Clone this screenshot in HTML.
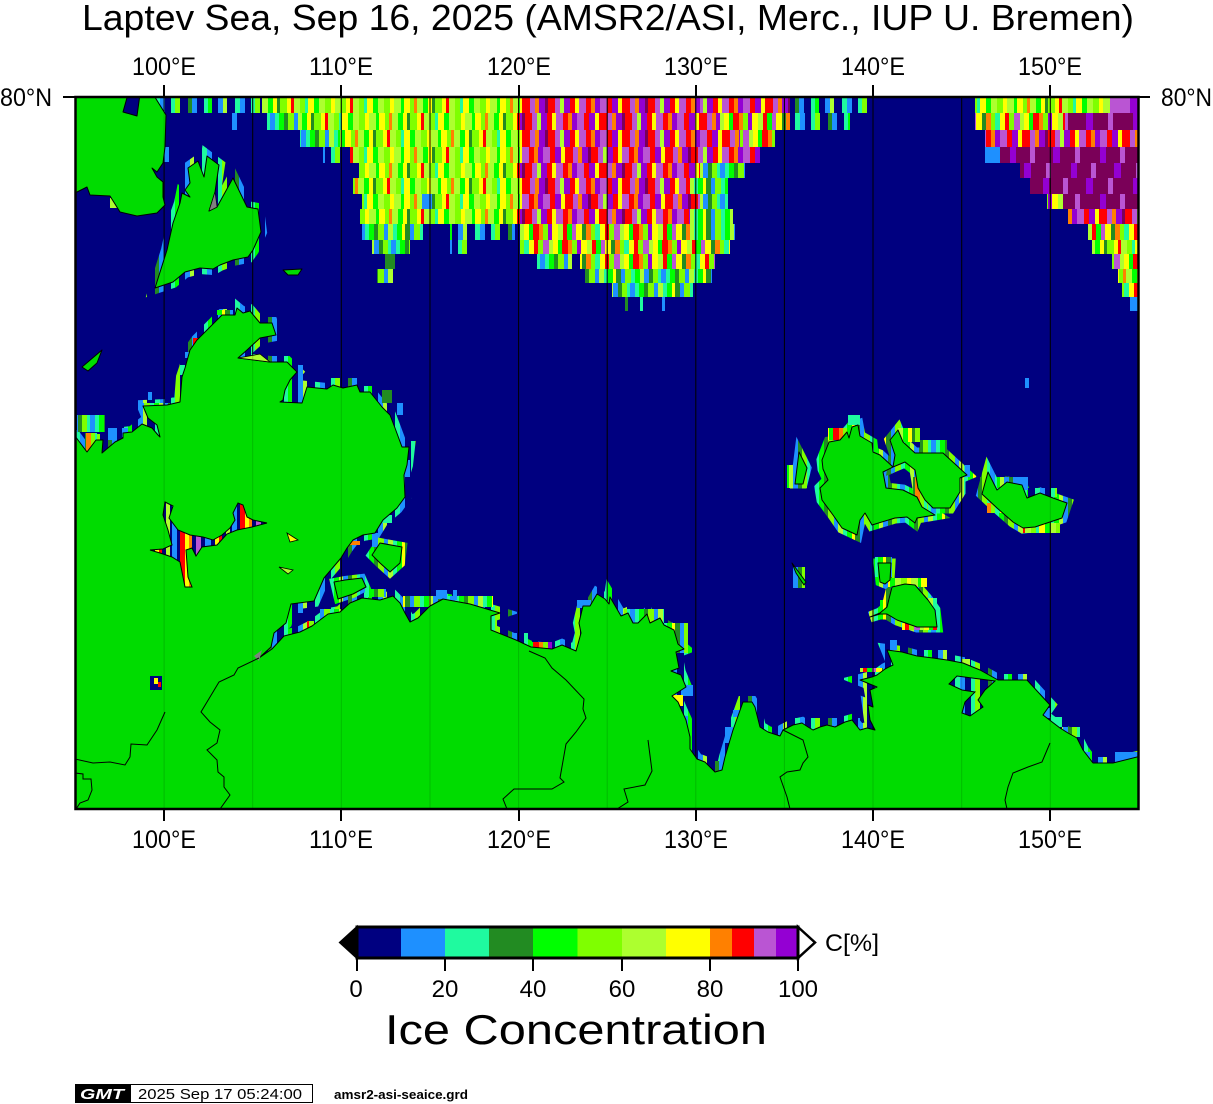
<!DOCTYPE html>
<html>
<head>
<meta charset="utf-8">
<style>
html,body{margin:0;padding:0;background:#fff;}
svg{display:block;}
text{font-family:"Liberation Sans",Arial,Helvetica,sans-serif;fill:#000;}
</style>
</head>
<body>
<svg xmlns="http://www.w3.org/2000/svg" xmlns:xlink="http://www.w3.org/1999/xlink" width="1213" height="1104" viewBox="0 0 1213 1104">
<defs>
<clipPath id="mapclip"><rect x="75.5" y="97" width="1063" height="712"/></clipPath>

<pattern id="yg" patternUnits="userSpaceOnUse" width="96" height="20">
<rect x="0" width="6" height="20" fill="#7fff00"/><rect x="6" width="4" height="20" fill="#ffff00"/><rect x="10" width="7" height="20" fill="#adff2f"/><rect x="17" width="3" height="20" fill="#00ff00"/><rect x="20" width="6" height="20" fill="#ffff00"/><rect x="26" width="4" height="20" fill="#7fff00"/><rect x="30" width="3" height="20" fill="#ff8000"/><rect x="33" width="6" height="20" fill="#adff2f"/><rect x="39" width="5" height="20" fill="#00ff00"/><rect x="44" width="4" height="20" fill="#ffff00"/><rect x="48" width="3" height="20" fill="#228b22"/><rect x="51" width="7" height="20" fill="#7fff00"/><rect x="58" width="4" height="20" fill="#ffff00"/><rect x="62" width="3" height="20" fill="#ff0000"/><rect x="65" width="6" height="20" fill="#adff2f"/><rect x="71" width="5" height="20" fill="#7fff00"/><rect x="76" width="3" height="20" fill="#1ffa9f"/><rect x="79" width="6" height="20" fill="#ffff00"/><rect x="85" width="5" height="20" fill="#00ff00"/><rect x="90" width="6" height="20" fill="#adff2f"/>
</pattern>
<pattern id="wm" patternUnits="userSpaceOnUse" width="100" height="20">
<rect x="0" width="7" height="20" fill="#ba55d3"/><rect x="7" width="5" height="20" fill="#ff0000"/><rect x="12" width="6" height="20" fill="#9400d3"/><rect x="18" width="4" height="20" fill="#ffff00"/><rect x="22" width="8" height="20" fill="#ff0000"/><rect x="30" width="5" height="20" fill="#ba55d3"/><rect x="35" width="4" height="20" fill="#ff8000"/><rect x="39" width="6" height="20" fill="#9400d3"/><rect x="45" width="3" height="20" fill="#7a0058"/><rect x="48" width="7" height="20" fill="#ff0000"/><rect x="55" width="5" height="20" fill="#ba55d3"/><rect x="60" width="4" height="20" fill="#adff2f"/><rect x="64" width="6" height="20" fill="#9400d3"/><rect x="70" width="5" height="20" fill="#ff0000"/><rect x="75" width="4" height="20" fill="#ffff00"/><rect x="79" width="7" height="20" fill="#ba55d3"/><rect x="86" width="5" height="20" fill="#ff0000"/><rect x="91" width="4" height="20" fill="#ff8000"/><rect x="95" width="5" height="20" fill="#9400d3"/>
</pattern>
<pattern id="ed" patternUnits="userSpaceOnUse" width="90" height="20">
<rect x="0" width="5" height="20" fill="#1e90ff"/><rect x="5" width="4" height="20" fill="#1ffa9f"/><rect x="9" width="5" height="20" fill="#00ff00"/><rect x="14" width="4" height="20" fill="#228b22"/><rect x="18" width="6" height="20" fill="#7fff00"/><rect x="24" width="4" height="20" fill="#1e90ff"/><rect x="28" width="5" height="20" fill="#adff2f"/><rect x="33" width="4" height="20" fill="#1ffa9f"/><rect x="37" width="5" height="20" fill="#00ff00"/><rect x="42" width="3" height="20" fill="#ffff00"/><rect x="45" width="5" height="20" fill="#228b22"/><rect x="50" width="4" height="20" fill="#1e90ff"/><rect x="54" width="6" height="20" fill="#7fff00"/><rect x="60" width="4" height="20" fill="#1ffa9f"/><rect x="64" width="5" height="20" fill="#00ff00"/><rect x="69" width="4" height="20" fill="#adff2f"/><rect x="73" width="5" height="20" fill="#1e90ff"/><rect x="78" width="4" height="20" fill="#228b22"/><rect x="82" width="5" height="20" fill="#7fff00"/><rect x="87" width="3" height="20" fill="#1ffa9f"/>
</pattern>
<pattern id="sp" patternUnits="userSpaceOnUse" width="80" height="20">
<rect x="0" width="80" height="20" fill="#000080"/><rect x="0" width="5" height="20" fill="#1e90ff"/><rect x="11" width="4" height="20" fill="#1ffa9f"/><rect x="15" width="5" height="20" fill="#7fff00"/><rect x="28" width="4" height="20" fill="#228b22"/><rect x="32" width="5" height="20" fill="#1e90ff"/><rect x="44" width="4" height="20" fill="#1ffa9f"/><rect x="48" width="4" height="20" fill="#00ff00"/><rect x="58" width="5" height="20" fill="#1e90ff"/><rect x="63" width="4" height="20" fill="#adff2f"/><rect x="75" width="5" height="20" fill="#1ffa9f"/>
</pattern>
<pattern id="ma" patternUnits="userSpaceOnUse" width="90" height="20">
<rect x="0" width="90" height="20" fill="#7a0058"/><rect x="20" width="6" height="20" fill="#9400d3"/><rect x="40" width="5" height="20" fill="#ba55d3"/><rect x="63" width="7" height="20" fill="#9400d3"/><rect x="85" width="5" height="20" fill="#ba55d3"/>
</pattern>
<pattern id="mx" patternUnits="userSpaceOnUse" width="100" height="20">
<rect x="0" width="5" height="20" fill="#ffff00"/><rect x="5" width="4" height="20" fill="#ff0000"/><rect x="9" width="5" height="20" fill="#7fff00"/><rect x="14" width="6" height="20" fill="#ba55d3"/><rect x="20" width="4" height="20" fill="#adff2f"/><rect x="24" width="5" height="20" fill="#ffff00"/><rect x="29" width="4" height="20" fill="#00ff00"/><rect x="33" width="6" height="20" fill="#ff0000"/><rect x="39" width="4" height="20" fill="#ff8000"/><rect x="43" width="5" height="20" fill="#7fff00"/><rect x="48" width="4" height="20" fill="#9400d3"/><rect x="52" width="6" height="20" fill="#ffff00"/><rect x="58" width="5" height="20" fill="#adff2f"/><rect x="63" width="4" height="20" fill="#ff0000"/><rect x="67" width="5" height="20" fill="#00ff00"/><rect x="72" width="4" height="20" fill="#ba55d3"/><rect x="76" width="6" height="20" fill="#ffff00"/><rect x="82" width="4" height="20" fill="#228b22"/><rect x="86" width="5" height="20" fill="#ff8000"/><rect x="91" width="4" height="20" fill="#7fff00"/><rect x="95" width="5" height="20" fill="#1ffa9f"/>
</pattern>
<pattern id="bw" patternUnits="userSpaceOnUse" width="60" height="20">
<rect x="0" width="60" height="20" fill="#000080"/><rect x="0" width="5" height="20" fill="#ff0000"/><rect x="5" width="4" height="20" fill="#ffff00"/><rect x="9" width="3" height="20" fill="#ff8000"/><rect x="16" width="5" height="20" fill="#ba55d3"/><rect x="25" width="6" height="20" fill="#1e90ff"/><rect x="35" width="4" height="20" fill="#ffff00"/><rect x="39" width="3" height="20" fill="#ff0000"/><rect x="46" width="4" height="20" fill="#adff2f"/><rect x="52" width="5" height="20" fill="#1e90ff"/>
</pattern>
<pattern id="yg2" xlink:href="#yg" x="37"/>
<pattern id="yg3" xlink:href="#yg" x="71"/>
<pattern id="wm2" xlink:href="#wm" x="43"/>
<pattern id="wm3" xlink:href="#wm" x="77"/>
<pattern id="ed2" xlink:href="#ed" x="31"/>
<pattern id="sp2" xlink:href="#sp" x="47"/>
<pattern id="ma2" xlink:href="#ma" x="33"/>
<pattern id="ma3" xlink:href="#ma" x="61"/>
<pattern id="mx2" xlink:href="#mx" x="29"/>

<polygon id="pMain" points="75,436 87,452 96,440 103,440 102,453 115,442 123,438 123,433 132,432 142,424 152,428 158,435 160,437 157,425 148,418 143,406 167,405 180,402 182,377 185,368 190,350 197,340 210,327 222,315 235,315 237,308 243,313 250,311 260,323 272,323 276,335 260,338 247,350 238,358 270,362 287,362 297,372 290,380 285,390 283,400 280,402 302,403 307,387 327,389 333,385 343,388 357,385 360,392 370,392 382,407 390,415 395,428 402,447 409,447 407,465 404,475 405,497 397,508 383,520 375,533 363,535 353,540 347,548 341,558 324,578 314,601 291,604 286,623 274,633 271,647 259,658 272,649 284,636 300,632 312,626 328,614 340,612 350,603 362,598 380,600 393,596 400,603 405,613 410,622 418,618 430,606 443,599 470,604 500,613 491,616 491,630 516,640 531,647 552,649 562,645 576,651 578,644 581,633 579,623 583,606 590,606 597,594 605,599 609,604 610,597 621,616 628,613 633,623 638,623 643,618 647,614 650,623 660,618 664,625 674,630 678,644 684,649 676,652 679,668 671,671 681,675 686,687 672,696 678,702 681,709 686,720 690,737 690,749 697,759 705,762 715,772 722,770 725,757 733,730 743,702 752,702 755,707 760,727 768,732 780,736 783,730 793,725 802,723 808,727 813,730 820,727 827,725 835,727 845,722 852,720 860,730 867,728 875,730 870,720 868,705 873,707 870,690 877,687 860,680 872,677 877,675 885,669 893,665 887,650 902,652 917,656 933,658 947,660 963,663 980,670 998,680 1027,680 1038,692 1050,705 1043,715 1060,728 1068,733 1077,738 1083,750 1093,763 1113,763 1141,756 1141,812 72,812 72,436"/>
<polygon id="pI1" points="72,94 128,94 123,112 137,116 140,94 153,94 166,115 165,147 163,163 157,172 152,168 157,177 163,182 163,197 165,205 157,213 137,216 120,212 110,196 90,195 87,187 77,192 72,193"/>
<polygon id="pI2" points="155,288 167,250 173,223 180,203 182,193 190,197 185,190 190,183 188,168 198,161 204,177 207,156 219,165 215,192 209,211 217,207 233,178 247,207 258,209 261,232 253,250 248,257 233,260 220,265 213,269 200,268 185,272 173,282"/>
<polygon id="pBeg" points="372,555 380,543 402,547 400,563 390,572 380,563"/>
<polygon id="pSm" points="334,582 345,580 362,578 366,587 353,594 338,599"/>
<polygon id="pK1" points="820,488 828,480 823,469 822,460 829,442 840,440 847,432 849,438 852,427 858,425 860,436 872,443 873,452 880,455 893,467 883,472 886,488 903,490 917,497 922,507 935,515 917,518 915,523 907,517 895,518 872,525 865,513 860,520 857,535 842,528 833,515 822,500"/>
<polygon id="pK2" points="890,440 898,430 903,442 915,453 943,453 967,475 960,478 960,492 950,508 933,508 925,500 918,488 915,470 905,462 893,467 895,455"/>
<polygon id="pNS" points="982,494 988,472 997,490 1007,482 1022,485 1027,498 1040,493 1053,498 1067,503 1062,518 1035,527 1023,528 1013,522 997,508"/>
<polygon id="pLya" points="870,617 880,613 887,607 892,587 905,584 915,585 928,600 935,610 937,627 917,627 897,620 887,614 880,614"/>
<polygon id="pStol" points="878,563 891,563 890,580 885,584 880,582"/>
<polygon id="pBel" points="799,452 807,468 803,484 795,484"/>
</defs>

<rect x="0" y="0" width="1213" height="1104" fill="#fff"/>

<!-- Title -->
<text x="82" y="30" font-size="36" textLength="1052" lengthAdjust="spacingAndGlyphs">Laptev Sea, Sep 16, 2025 (AMSR2/ASI, Merc., IUP U. Bremen)</text>

<g clip-path="url(#mapclip)">
<rect x="70" y="90" width="1075" height="725" fill="#000080"/>

<!-- central ice band -->
<rect x="153" y="97" width="109" height="16" fill="url(#sp)"/>
<rect x="262" y="97" width="78" height="16" fill="url(#yg2)"/>
<rect x="340" y="97" width="180" height="16" fill="url(#yg)"/>
<rect x="520" y="97" width="180" height="16" fill="url(#wm)"/>
<rect x="700" y="97" width="90" height="16" fill="url(#wm2)"/>
<rect x="790" y="97" width="80" height="16" fill="url(#sp2)"/>

<rect x="267" y="113" width="33" height="17" fill="url(#ed)"/>
<rect x="300" y="113" width="220" height="17" fill="url(#yg3)"/>
<rect x="520" y="113" width="200" height="17" fill="url(#wm3)"/>
<rect x="720" y="113" width="70" height="17" fill="url(#mx)"/>
<rect x="790" y="113" width="60" height="17" fill="url(#sp)"/>
<rect x="232" y="113" width="5" height="17" fill="#1e90ff"/>

<rect x="300" y="130" width="40" height="17" fill="url(#ed2)"/>
<rect x="340" y="130" width="180" height="17" fill="url(#yg2)"/>
<rect x="520" y="130" width="220" height="17" fill="url(#wm)"/>
<rect x="740" y="130" width="35" height="17" fill="url(#mx2)"/>

<rect x="323" y="147" width="17" height="16" fill="url(#sp)"/>
<rect x="350" y="147" width="170" height="16" fill="url(#yg)"/>
<rect x="520" y="147" width="240" height="16" fill="url(#wm2)"/>

<rect x="359" y="163" width="161" height="15" fill="url(#yg3)"/>
<rect x="520" y="163" width="180" height="15" fill="url(#wm3)"/>
<rect x="700" y="163" width="45" height="15" fill="url(#ed)"/>

<rect x="353" y="178" width="167" height="16" fill="url(#yg2)"/>
<rect x="520" y="178" width="170" height="16" fill="url(#wm)"/>
<rect x="690" y="178" width="38" height="16" fill="url(#ed2)"/>

<rect x="362" y="194" width="158" height="15" fill="url(#yg)"/>
<rect x="422" y="194" width="10" height="15" fill="#1e90ff"/>
<rect x="520" y="194" width="180" height="15" fill="url(#wm2)"/>
<rect x="700" y="194" width="28" height="15" fill="url(#ed)"/>

<rect x="360" y="209" width="160" height="15" fill="url(#yg3)"/>
<rect x="520" y="209" width="170" height="15" fill="url(#wm3)"/>
<rect x="690" y="209" width="43" height="15" fill="url(#ed2)"/>

<rect x="362" y="224" width="61" height="16" fill="url(#ed)"/>
<rect x="450" y="224" width="65" height="16" fill="url(#sp)"/>
<rect x="520" y="224" width="170" height="16" fill="url(#mx)"/>
<rect x="690" y="224" width="45" height="16" fill="url(#ed2)"/>

<rect x="372" y="240" width="38" height="14" fill="url(#ed2)"/>
<rect x="450" y="240" width="20" height="14" fill="url(#sp2)"/>
<rect x="520" y="240" width="210" height="14" fill="url(#mx2)"/>

<rect x="385" y="254" width="10" height="15" fill="#228b22"/>
<rect x="537" y="254" width="35" height="15" fill="url(#ed)"/>
<rect x="580" y="254" width="135" height="15" fill="url(#mx)"/>

<rect x="377" y="269" width="16" height="14" fill="url(#ed)"/>
<rect x="585" y="269" width="127" height="14" fill="url(#ed2)"/>

<rect x="612" y="283" width="81" height="14" fill="url(#ed)"/>
<rect x="625" y="297" width="3" height="14" fill="#228b22"/>
<rect x="640" y="297" width="3" height="14" fill="#1ffa9f"/>
<rect x="662" y="297" width="3" height="14" fill="#1e90ff"/>

<!-- top-right ice -->
<rect x="975" y="97" width="135" height="16" fill="url(#yg2)"/>
<rect x="1110" y="97" width="20" height="16" fill="#ba55d3"/>
<rect x="1130" y="97" width="10" height="16" fill="#9400d3"/>
<rect x="975" y="113" width="90" height="17" fill="url(#mx)"/>
<rect x="1065" y="113" width="75" height="17" fill="url(#ma2)"/>
<rect x="985" y="130" width="155" height="17" fill="url(#wm)"/>
<rect x="985" y="147" width="15" height="16" fill="#1e90ff"/>
<rect x="1000" y="147" width="140" height="16" fill="url(#ma)"/>
<rect x="1020" y="163" width="120" height="15" fill="url(#ma3)"/>
<rect x="1030" y="178" width="110" height="16" fill="url(#ma2)"/>
<rect x="1047" y="194" width="16" height="15" fill="url(#mx)"/>
<rect x="1063" y="194" width="77" height="15" fill="url(#ma)"/>
<rect x="1068" y="209" width="72" height="15" fill="url(#wm3)"/>
<rect x="1088" y="224" width="52" height="16" fill="url(#mx2)"/>
<rect x="1092" y="240" width="48" height="14" fill="url(#yg)"/>
<rect x="1112" y="254" width="28" height="15" fill="url(#mx)"/>
<rect x="1118" y="269" width="22" height="14" fill="url(#yg2)"/>
<rect x="1122" y="283" width="18" height="14" fill="url(#mx2)"/>
<rect x="1130" y="297" width="10" height="14" fill="#1e90ff"/>
<rect x="1025" y="378" width="4" height="10" fill="#1e90ff"/>

<!-- coastal rims (under land) -->
<use xlink:href="#pMain" fill="none" stroke="url(#sp)" stroke-width="12"/>
<use xlink:href="#pI2" fill="none" stroke="url(#sp2)" stroke-width="12"/>
<use xlink:href="#pBeg" fill="none" stroke="url(#ed)" stroke-width="10"/>
<use xlink:href="#pSm" fill="none" stroke="url(#ed)" stroke-width="8"/>
<use xlink:href="#pK1" fill="none" stroke="url(#ed)" stroke-width="11"/>
<use xlink:href="#pK2" fill="none" stroke="url(#ed2)" stroke-width="11"/>
<use xlink:href="#pNS" fill="none" stroke="url(#ed)" stroke-width="11"/>
<use xlink:href="#pLya" fill="none" stroke="url(#ed2)" stroke-width="11"/>
<use xlink:href="#pStol" fill="none" stroke="url(#ed)" stroke-width="9"/>
<use xlink:href="#pBel" fill="none" stroke="url(#ed)" stroke-width="9"/>

<rect x="193" y="338" width="6" height="8" fill="#ff0000"/>
<rect x="163" y="147" width="6" height="15" fill="#1e90ff"/>
<rect x="110" y="198" width="7" height="10" fill="#adff2f"/>
<rect x="664" y="623" width="24" height="30" fill="url(#ed)"/>
<rect x="681" y="685" width="12" height="11" fill="#1e90ff"/>
<rect x="667" y="695" width="16" height="11" fill="#ffff00"/>
<rect x="676" y="716" width="12" height="14" fill="url(#ed2)"/>
<rect x="686" y="733" width="11" height="25" fill="url(#sp)"/>
<rect x="710" y="761" width="14" height="17" fill="url(#sp2)"/>
<rect x="726" y="733" width="14" height="18" fill="url(#sp)"/>
<rect x="624" y="609" width="40" height="14" fill="url(#ed)"/>
<rect x="403" y="596" width="90" height="11" fill="url(#ed)"/>
<rect x="436" y="590" width="11" height="9" fill="#1e90ff"/>
<rect x="453" y="590" width="4" height="10" fill="#1e90ff"/>
<rect x="500" y="633" width="28" height="11" fill="url(#sp)"/>
<rect x="531" y="642" width="21" height="7" fill="url(#mx)"/>
<rect x="577" y="600" width="14" height="8" fill="#1e90ff"/>
<rect x="290" y="604" width="13" height="9" fill="url(#sp)"/>
<rect x="271" y="628" width="4" height="16" fill="#1e90ff"/>
<rect x="307" y="621" width="7" height="9" fill="url(#mx)"/>
<rect x="320" y="609" width="21" height="7" fill="url(#ed)"/>
<rect x="365" y="589" width="21" height="8" fill="url(#ed)"/>
<rect x="890" y="640" width="7" height="10" fill="#1e90ff"/>
<rect x="923" y="650" width="24" height="10" fill="url(#sp)"/>
<rect x="962" y="659" width="8" height="8" fill="#adff2f"/>
<rect x="860" y="668" width="23" height="4" fill="url(#mx)"/>
<rect x="1030" y="708" width="20" height="10" fill="#1e90ff"/>
<rect x="1050" y="717" width="12" height="10" fill="#1ffa9f"/>
<rect x="1062" y="727" width="18" height="10" fill="url(#ed)"/>
<rect x="1080" y="752" width="10" height="10" fill="#1e90ff"/>
<rect x="1115" y="752" width="25" height="10" fill="#1e90ff"/>
<rect x="787" y="718" width="73" height="9" fill="url(#sp)"/>
<rect x="733" y="710" width="9" height="7" fill="#1e90ff"/>
<rect x="725" y="727" width="8" height="16" fill="#1e90ff"/>
<rect x="77" y="415" width="28" height="17" fill="url(#ed)"/>
<rect x="85" y="433" width="12" height="20" fill="url(#mx)"/>
<rect x="108" y="428" width="9" height="12" fill="#1e90ff"/>
<rect x="122" y="428" width="6" height="9" fill="#1e90ff"/>
<rect x="143" y="403" width="27" height="5" fill="url(#ed)"/>
<rect x="148" y="392" width="4" height="8" fill="#1e90ff"/>
<rect x="217" y="310" width="16" height="5" fill="url(#ed)"/>
<rect x="185" y="352" width="7" height="6" fill="#1e90ff"/>
<rect x="180" y="365" width="5" height="10" fill="#1ffa9f"/>
<rect x="330" y="378" width="27" height="10" fill="url(#sp)"/>
<rect x="382" y="390" width="10" height="13" fill="#228b22"/>
<rect x="397" y="403" width="6" height="12" fill="#1e90ff"/>
<rect x="393" y="460" width="17" height="17" fill="#1e90ff"/>
<rect x="382" y="515" width="10" height="8" fill="#1ffa9f"/>
<rect x="372" y="533" width="6" height="14" fill="#1e90ff"/>
<rect x="347" y="541" width="13" height="4" fill="#ff8000"/>
<rect x="283" y="365" width="20" height="38" fill="url(#sp)"/>
<rect x="828" y="428" width="19" height="12" fill="url(#mx)"/>
<rect x="848" y="415" width="12" height="10" fill="#1ffa9f"/>
<rect x="898" y="428" width="22" height="14" fill="url(#yg)"/>
<rect x="920" y="440" width="27" height="13" fill="url(#ed2)"/>
<rect x="913" y="477" width="14" height="33" fill="url(#mx2)"/>
<rect x="965" y="465" width="5" height="12" fill="#1e90ff"/>
<rect x="980" y="477" width="10" height="23" fill="url(#ed)"/>
<rect x="997" y="477" width="16" height="11" fill="url(#ed2)"/>
<rect x="1013" y="477" width="15" height="13" fill="#1e90ff"/>
<rect x="1028" y="488" width="29" height="9" fill="url(#sp)"/>
<rect x="987" y="503" width="26" height="10" fill="url(#mx)"/>
<rect x="1023" y="523" width="37" height="10" fill="url(#yg)"/>
<rect x="787" y="465" width="20" height="23" fill="url(#ed)"/>
<rect x="793" y="567" width="12" height="21" fill="url(#ed)"/>
<rect x="875" y="557" width="17" height="20" fill="url(#ed2)"/>
<rect x="888" y="578" width="39" height="9" fill="url(#yg2)"/>
<rect x="920" y="598" width="17" height="12" fill="url(#ed)"/>
<rect x="880" y="600" width="10" height="15" fill="url(#ed2)"/>
<rect x="902" y="623" width="35" height="7" fill="url(#mx)"/>

<!-- meridians (under land) -->
<g stroke="#000" stroke-width="1">
<line x1="164.1" y1="97" x2="164.1" y2="809"/><line x1="252.7" y1="97" x2="252.7" y2="809"/><line x1="341.3" y1="97" x2="341.3" y2="809"/><line x1="430" y1="97" x2="430" y2="809"/><line x1="518.6" y1="97" x2="518.6" y2="809"/><line x1="607.2" y1="97" x2="607.2" y2="809"/><line x1="695.8" y1="97" x2="695.8" y2="809"/><line x1="784.4" y1="97" x2="784.4" y2="809"/><line x1="873" y1="97" x2="873" y2="809"/><line x1="961.7" y1="97" x2="961.7" y2="809"/><line x1="1050.3" y1="97" x2="1050.3" y2="809"/>
</g>

<!-- land -->
<g fill="#00dc00" stroke="#000" stroke-width="1" stroke-linejoin="round">
<use xlink:href="#pMain"/>
<use xlink:href="#pI1"/>
<use xlink:href="#pI2"/>
<use xlink:href="#pBeg"/>
<use xlink:href="#pSm"/>
<use xlink:href="#pK1"/>
<use xlink:href="#pK2"/>
<use xlink:href="#pNS"/>
<use xlink:href="#pLya"/>
<use xlink:href="#pStol"/>
<use xlink:href="#pBel"/>
<polygon points="283,270 302,269 298,275 288,275"/>
<polygon points="82,367 102,350 97,363 88,371"/>
<polygon points="792,563 806,582 804,585 796,573"/>
</g>

<!-- water bodies on land -->
<polygon points="165,502 173,506 169,518 178,530 190,535 203,537 213,540 222,535 230,528 235,520 233,513 238,503 243,505 247,517 253,520 267,523 252,527 237,530 227,534 217,545 202,547 196,556 192,548 186,550 188,577 192,587 185,587 180,562 172,557 160,553 150,550 163,549 172,545 168,530 163,515" fill="url(#bw)" stroke="#000" stroke-width="1"/>
<polygon points="949,684 957,676 995,681 985,690 978,700 983,707 970,716 962,713 965,702 975,692 962,690" fill="url(#sp)" stroke="#000" stroke-width="1"/>
<polygon points="238,358 260,354 270,362" fill="#adff2f" stroke="#000" stroke-width="0.8"/>
<polygon points="287,533 298,540 290,542" fill="#ffff00" stroke="#000" stroke-width="0.8"/>
<polygon points="279,567 293,570 288,574" fill="#adff2f" stroke="#000" stroke-width="0.8"/>
<rect x="150" y="676" width="12" height="14" fill="#000080"/>
<rect x="154" y="678" width="4" height="6" fill="#ffff00"/>
<rect x="158" y="682" width="3" height="5" fill="#ff0000"/>
<polygon points="209,211 215,192 217,207" fill="#808080" stroke="#000" stroke-width="0.6"/>
<polygon points="254,656 262,650 259,661" fill="#808080"/>

<!-- internal lines -->
<g fill="none" stroke="#000" stroke-width="1">
<polyline points="259,658 238,668 234,675 219,682 207,702 201,712 210,722 220,730 217,743 207,750 217,760 218,772 224,777 224,787 230,795 220,809"/>
<polyline points="165,712 157,730 147,745 131,744 130,757 125,765 110,762 93,763 75,759"/>
<polyline points="75,773 83,774 83,779 91,779 92,790 88,800 80,803 76,809"/>
<polyline points="529,651 545,658 552,668 566,680 584,699 583,709 586,718 576,732 566,744 560,778 564,782 552,789 514,789 503,799 507,809"/>
<polyline points="648,740 652,771 645,785 624,789 628,802 617,809"/>
<polyline points="783,730 803,740 808,757 803,763 800,770 787,772 780,777 787,797 790,809"/>
<polyline points="1050,743 1042,762 1028,767 1013,773 1008,787 1005,800 1007,809"/>
</g>

<!-- faint meridians over land -->
<g stroke="#000" stroke-opacity="0.15" stroke-width="1">
<line x1="164.1" y1="97" x2="164.1" y2="809"/><line x1="252.7" y1="97" x2="252.7" y2="809"/><line x1="341.3" y1="97" x2="341.3" y2="809"/><line x1="430" y1="97" x2="430" y2="809"/><line x1="518.6" y1="97" x2="518.6" y2="809"/><line x1="607.2" y1="97" x2="607.2" y2="809"/><line x1="695.8" y1="97" x2="695.8" y2="809"/><line x1="784.4" y1="97" x2="784.4" y2="809"/><line x1="873" y1="97" x2="873" y2="809"/><line x1="961.7" y1="97" x2="961.7" y2="809"/><line x1="1050.3" y1="97" x2="1050.3" y2="809"/>
</g>
</g>

<!-- frame -->
<rect x="75.5" y="97" width="1063" height="712" fill="none" stroke="#000" stroke-width="2.5"/>
<g stroke="#000" stroke-width="2">
<line x1="164" y1="85" x2="164" y2="97"/><line x1="341" y1="85" x2="341" y2="97"/><line x1="519" y1="85" x2="519" y2="97"/><line x1="696" y1="85" x2="696" y2="97"/><line x1="873" y1="85" x2="873" y2="97"/><line x1="1050" y1="85" x2="1050" y2="97"/>
<line x1="164" y1="809" x2="164" y2="821"/><line x1="341" y1="809" x2="341" y2="821"/><line x1="519" y1="809" x2="519" y2="821"/><line x1="696" y1="809" x2="696" y2="821"/><line x1="873" y1="809" x2="873" y2="821"/><line x1="1050" y1="809" x2="1050" y2="821"/>
<line x1="63" y1="97" x2="75" y2="97"/><line x1="1138" y1="97" x2="1150" y2="97"/>
</g>

<!-- axis labels -->
<g font-size="25">
<text x="132" y="75" textLength="64" lengthAdjust="spacingAndGlyphs">100°E</text>
<text x="309" y="75" textLength="64" lengthAdjust="spacingAndGlyphs">110°E</text>
<text x="487" y="75" textLength="64" lengthAdjust="spacingAndGlyphs">120°E</text>
<text x="664" y="75" textLength="64" lengthAdjust="spacingAndGlyphs">130°E</text>
<text x="841" y="75" textLength="64" lengthAdjust="spacingAndGlyphs">140°E</text>
<text x="1018" y="75" textLength="64" lengthAdjust="spacingAndGlyphs">150°E</text>
<text x="132" y="848" textLength="64" lengthAdjust="spacingAndGlyphs">100°E</text>
<text x="309" y="848" textLength="64" lengthAdjust="spacingAndGlyphs">110°E</text>
<text x="487" y="848" textLength="64" lengthAdjust="spacingAndGlyphs">120°E</text>
<text x="664" y="848" textLength="64" lengthAdjust="spacingAndGlyphs">130°E</text>
<text x="841" y="848" textLength="64" lengthAdjust="spacingAndGlyphs">140°E</text>
<text x="1018" y="848" textLength="64" lengthAdjust="spacingAndGlyphs">150°E</text>
<text x="0" y="106" textLength="52" lengthAdjust="spacingAndGlyphs">80°N</text>
<text x="1161" y="106" textLength="51" lengthAdjust="spacingAndGlyphs">80°N</text>
</g>

<!-- colorbar -->
<rect x="357" y="927" width="44.5" height="31" fill="#000080"/>
<rect x="401" y="927" width="44.5" height="31" fill="#1e90ff"/>
<rect x="445" y="927" width="44.5" height="31" fill="#1ffa9f"/>
<rect x="489" y="927" width="44.5" height="31" fill="#228b22"/>
<rect x="533" y="927" width="45" height="31" fill="#00ff00"/>
<rect x="577.5" y="927" width="45" height="31" fill="#7fff00"/>
<rect x="622" y="927" width="44.5" height="31" fill="#adff2f"/>
<rect x="666" y="927" width="44.5" height="31" fill="#ffff00"/>
<rect x="710" y="927" width="22.5" height="31" fill="#ff8000"/>
<rect x="732" y="927" width="22.5" height="31" fill="#ff0000"/>
<rect x="754" y="927" width="22.5" height="31" fill="#ba55d3"/>
<rect x="776" y="927" width="22" height="31" fill="#9400d3"/>
<polygon points="357,927 340,942.5 357,958" fill="#000" stroke="#000" stroke-width="2"/>
<polygon points="798,927 815,942.5 798,958" fill="#fff" stroke="#000" stroke-width="2.5"/>
<rect x="357" y="927" width="441" height="31" fill="none" stroke="#000" stroke-width="3"/>
<g stroke="#000" stroke-width="2">
<line x1="357" y1="958" x2="357" y2="971"/><line x1="445" y1="958" x2="445" y2="971"/><line x1="533" y1="958" x2="533" y2="971"/><line x1="622" y1="958" x2="622" y2="971"/><line x1="710" y1="958" x2="710" y2="971"/><line x1="798" y1="958" x2="798" y2="971"/>
</g>
<g font-size="24" text-anchor="middle">
<text x="356" y="997">0</text>
<text x="445" y="997">20</text>
<text x="533" y="997">40</text>
<text x="622" y="997">60</text>
<text x="710" y="997">80</text>
<text x="798" y="997">100</text>
</g>
<text x="825" y="951" font-size="24" textLength="54" lengthAdjust="spacingAndGlyphs">C[%]</text>
<text x="385" y="1044" font-size="42" textLength="382" lengthAdjust="spacingAndGlyphs">Ice Concentration</text>

<!-- timestamp -->
<rect x="75" y="1084" width="55" height="19" fill="#000"/>
<text x="80" y="1099" font-size="15" font-weight="bold" font-style="italic" style="fill:#fff" textLength="44" lengthAdjust="spacingAndGlyphs">GMT</text>
<rect x="130.5" y="1084.5" width="182" height="18" fill="#fff" stroke="#000" stroke-width="1"/>
<text x="138" y="1099" font-size="15" textLength="164" lengthAdjust="spacingAndGlyphs">2025 Sep 17 05:24:00</text>
<text x="334" y="1099" font-size="13" font-weight="bold" textLength="134" lengthAdjust="spacingAndGlyphs">amsr2-asi-seaice.grd</text>
</svg>
</body>
</html>
